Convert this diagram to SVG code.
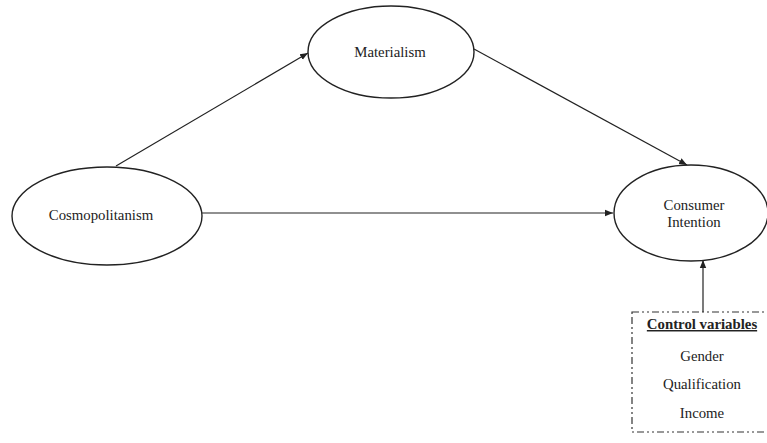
<svg xmlns="http://www.w3.org/2000/svg" width="767" height="443" viewBox="0 0 767 443">
<style>
.node{fill:#fff;stroke:#222;stroke-width:1.4}
.lbl{font-family:'Liberation Serif','Times New Roman','DejaVu Serif',serif;font-size:14.8px;fill:#222;text-anchor:middle}
.conn{stroke:#222;stroke-width:1.2;fill:none;marker-end:url(#ah)}
</style>
<defs>
<marker id="ah" viewBox="0 0 10 10" refX="10" refY="5" markerWidth="8" markerHeight="8" markerUnits="userSpaceOnUse" orient="auto">
<path d="M0,1 L10,5 L0,9 z" fill="#222"/>
</marker>
</defs>
<rect width="767" height="443" fill="#fff"/>
<g id="connectors">
<line class="conn" x1="116" y1="166" x2="308" y2="53"/>
<line class="conn" x1="474" y1="49" x2="687" y2="165"/>
<line class="conn" x1="202" y1="213" x2="613" y2="213"/>
<line class="conn" x1="703" y1="312" x2="703" y2="260"/>
</g>
<g id="materialism">
<ellipse class="node" cx="391" cy="52" rx="83" ry="46"/>
<text class="lbl" x="390" y="57">Materialism</text>
</g>
<g id="cosmopolitanism">
<ellipse class="node" cx="107" cy="216" rx="95" ry="49"/>
<text class="lbl" x="101" y="220">Cosmopolitanism</text>
</g>
<g id="consumer-intention">
<ellipse class="node" cx="691" cy="213" rx="77" ry="48"/>
<text class="lbl" x="694" y="210">Consumer</text>
<text class="lbl" x="694" y="227">Intention</text>
</g>
<g id="control-variables">
<rect x="632" y="312" width="136" height="120" fill="#fff" stroke="#333" stroke-width="1.2" stroke-dasharray="7 3 2 3 2 3"/>
<text class="lbl" x="702" y="329" font-weight="bold" text-decoration="underline">Control variables</text>
<text class="lbl" x="702" y="361">Gender</text>
<text class="lbl" x="702" y="389">Qualification</text>
<text class="lbl" x="702" y="418">Income</text>
</g>
</svg>
